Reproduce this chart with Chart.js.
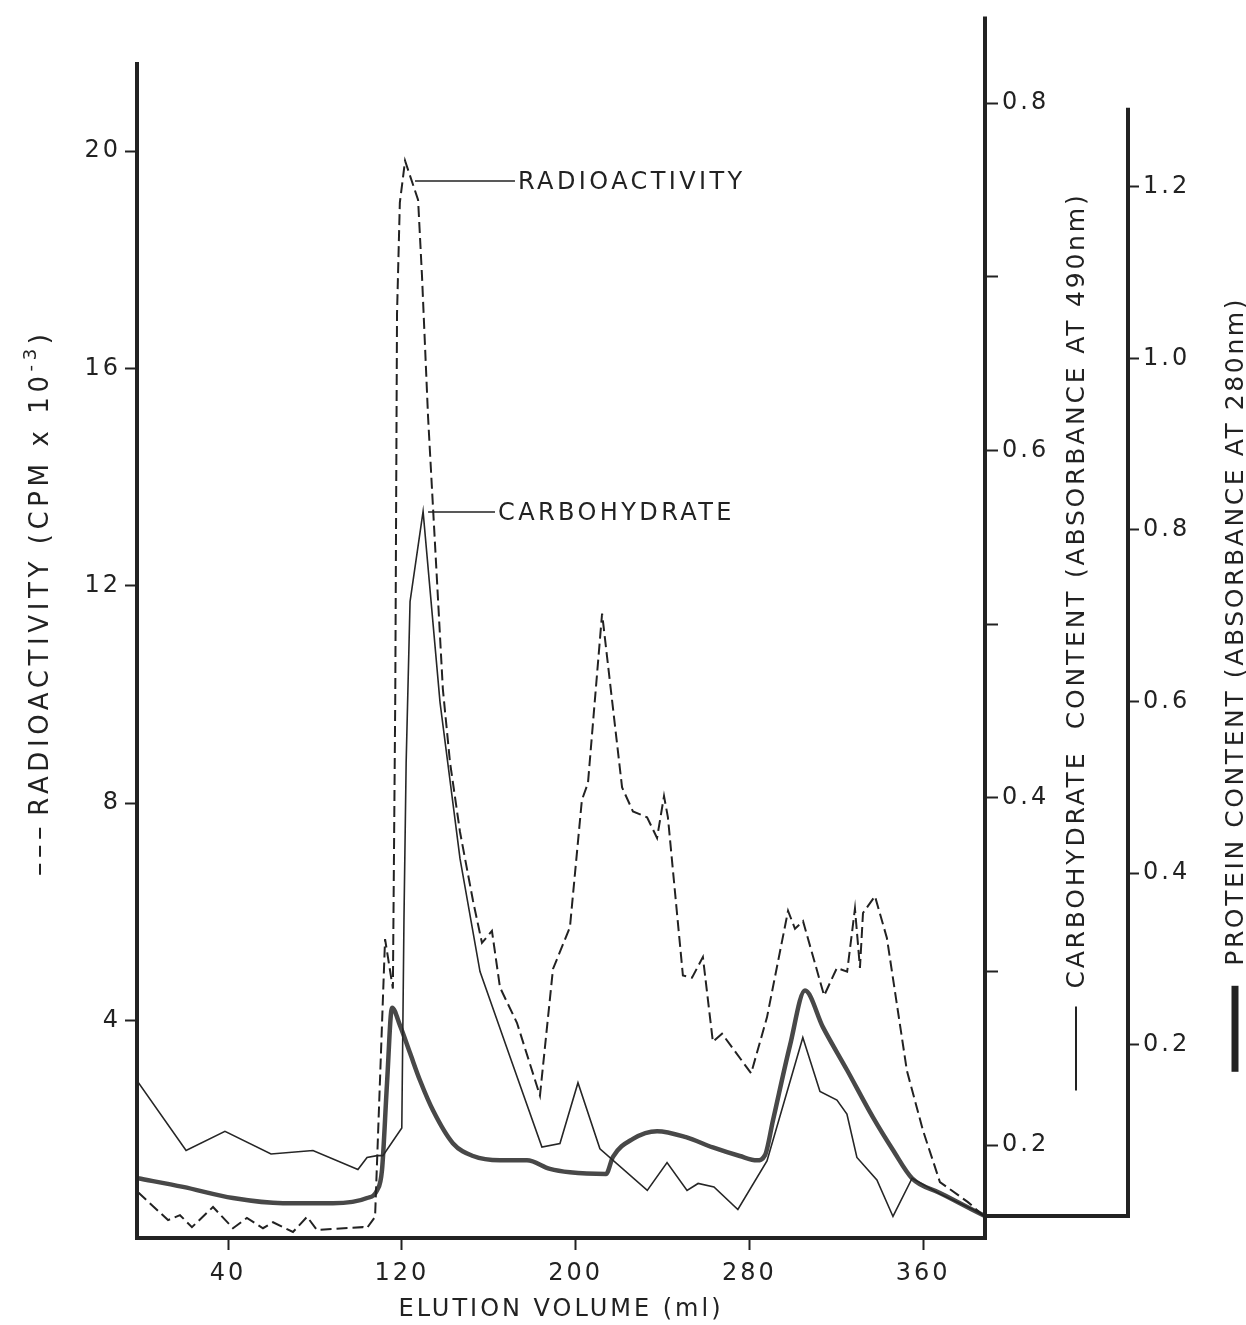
<!DOCTYPE html>
<html>
<head>
<meta charset="utf-8">
<title>Elution profile</title>
<script src="https://cdn.jsdelivr.net/npm/chart.js@4.4.0/dist/chart.umd.min.js"></script>
<style>
  html, body { margin: 0; padding: 0; background: #fff; }
</style>
</head>
<body>
<canvas id="elutionChart" width="1246" height="1325"></canvas>
<script>
// values
const radioVolume = [-1.4, 12.4, 17.9, 23.4, 33.1, 42.3, 48.7, 56.1, 60.7, 69.9, 76.4, 80.9, 102.1, 103.9, 107.7,
    112.3, 115.9, 117.0, 117.8, 119.1, 121.5, 127.5, 129.3, 132.1, 136.2, 138.9, 142.2, 146.8, 152.8, 156.9,
    161.5, 165.2, 173.0, 183.6, 189.6, 197.4, 202.9, 205.7, 212.2, 221.4, 226.4, 232.9, 237.5, 240.7, 242.5,
    249.4, 253.6, 258.6, 263.2, 267.4, 280.8, 288.1, 297.8, 301.0, 304.7, 314.4, 320.3, 325.0, 328.6, 330.9,
    332.3, 337.8, 343.3, 352.5, 359.9, 367.7, 380.6, 388.4];
const radioCpm = [0.84, 0.33, 0.42, 0.20, 0.57, 0.18, 0.37, 0.18, 0.29, 0.11, 0.39, 0.15, 0.20, 0.18, 0.39,
    5.50, 4.59, 10.0, 17.0, 19.05, 19.82, 19.10, 17.7, 15.1, 12.1, 10.1, 8.75, 7.47, 6.20, 5.43,
    5.65, 4.61, 3.96, 2.62, 4.95, 5.72, 8.06, 8.37, 11.49, 8.29, 7.85, 7.74, 7.36, 8.13, 7.74,
    4.83, 4.79, 5.17, 3.61, 3.76, 3.03, 4.06, 6.02, 5.69, 5.83, 4.46, 4.97, 4.90, 6.06, 4.97,
    5.98, 6.29, 5.52, 3.08, 1.98, 1.03, 0.66, 0.39];

const carboVolume = [-1.8, 20.7, 38.6, 59.8, 79.1, 99.8, 104.0, 108.6, 111.3, 120.0, 121.0, 122.0, 123.8, 129.8,
    137.6, 146.8, 156.0, 169.8, 184.5, 192.8, 201.1, 211.2, 233.0, 242.1, 251.3, 256.4, 263.7, 274.7,
    288.1, 304.6, 312.5, 320.3, 324.9, 329.5, 338.7, 346.1, 354.9, 367.7, 382.9, 388.4];
const carboAbs = [0.237, 0.197, 0.208, 0.195, 0.197, 0.186, 0.193, 0.194, 0.194, 0.210, 0.330, 0.420, 0.513, 0.565,
    0.455, 0.365, 0.300, 0.251, 0.199, 0.201, 0.236, 0.198, 0.174, 0.190, 0.174, 0.178, 0.176, 0.163,
    0.191, 0.262, 0.231, 0.226, 0.218, 0.193, 0.180, 0.159, 0.181, 0.172, 0.163, 0.159];

const proteinVolume = [-1.4, 19.3, 42.3, 65.3, 88.3, 104.0, 108.6, 110.9, 113.2, 115.5, 119.2, 123.8, 128.4, 134.4,
    143.5, 152.8, 165.2, 177.6, 188.2, 197.4, 214.0, 217.2, 226.4, 237.5, 250.8, 263.2, 275.6, 283.5,
    287.2, 290.9, 298.7, 305.6, 313.9, 325.0, 336.9, 346.1, 354.9, 367.7, 382.9, 388.4];
const proteinAbs = [0.044, 0.034, 0.021, 0.015, 0.015, 0.021, 0.030, 0.054, 0.155, 0.243, 0.222, 0.190, 0.158, 0.123,
    0.085, 0.070, 0.065, 0.065, 0.055, 0.051, 0.049, 0.069, 0.090, 0.099, 0.092, 0.080, 0.070, 0.065,
    0.071, 0.112, 0.199, 0.263, 0.220, 0.170, 0.115, 0.077, 0.044, 0.027, 0.007, 0.000];

const volumeTicks = [40, 120, 200, 280, 360];
const radioTicks = [4, 8, 12, 16, 20];
const carboTicks = [0.2, 0.3, 0.4, 0.5, 0.6, 0.7, 0.8];
const carboLabelled = [0.2, 0.4, 0.6, 0.8];
const proteinTicks = [0.2, 0.4, 0.6, 0.8, 1.0, 1.2];

const ink = '#222222';
const fontFamily = '"DejaVu Sans", "Liberation Sans", sans-serif';

Chart.defaults.font.family = fontFamily;
Chart.defaults.font.size = 24;
Chart.defaults.color = ink;

function toPoints(xs, ys) {
    return xs.map((x, i) => ({ x: x, y: ys[i] }));
}

function strokeLine(ctx, x1, y1, x2, y2) {
    ctx.beginPath();
    ctx.moveTo(x1, y1);
    ctx.lineTo(x2, y2);
    ctx.stroke();
}

// leader labels next to the peaks
const peakLabels = [
    { text: 'RADIOACTIVITY', scale: 'yRadio', value: 19.45, from: 126.1, to: 172.1 },
    { text: 'CARBOHYDRATE', scale: 'yCarbo', value: 0.5646, from: 132.1, to: 162.9 }
];

// rotated axis titles with their line-style key
const axisTitles = [
    { scale: 'yRadio', offset: 40, at: 11.7, size: 26, spacing: 4.6, text: 'RADIOACTIVITY (CPM x 10', sup: '-3', tail: ')',
      keyLength: 47, keyWidth: 2, keyDash: [11, 7], gap: 12 },
    { scale: 'yCarbo', offset: 91, at: 0.49, size: 25, spacing: 2.8, text: 'CARBOHYDRATE  CONTENT (ABSORBANCE AT 490nm)',
      keyLength: 84, keyWidth: 2, keyDash: [], gap: 18 },
    { scale: 'yProtein', offset: 107, at: 0.62, size: 25, spacing: 2.6, text: 'PROTEIN CONTENT (ABSORBANCE AT 280nm)',
      keyLength: 86, keyWidth: 7, keyDash: [], gap: 20 }
];

const radioAxisTop = 21.6;
const proteinAxisTop = 1.29;

const decorations = {
    id: 'decorations',
    beforeDraw(chart) {
        chart.ctx.letterSpacing = '3px';
    },
    afterDraw(chart) {
        const { ctx, chartArea, scales } = chart;
        ctx.save();
        ctx.strokeStyle = ink;
        ctx.lineWidth = 4;
        ctx.lineCap = 'square';

        // axis lines of unequal height, as in the original drawing
        strokeLine(ctx, chartArea.left, scales.yRadio.getPixelForValue(radioAxisTop), chartArea.left, chartArea.bottom);
        strokeLine(ctx, chartArea.right, chartArea.top, chartArea.right, chartArea.bottom);
        const px = scales.yProtein.left;
        const pBottom = scales.yProtein.getPixelForValue(0);
        strokeLine(ctx, px, scales.yProtein.getPixelForValue(proteinAxisTop), px, pBottom);
        strokeLine(ctx, chartArea.right, pBottom, px, pBottom);

        // peak labels
        ctx.lineCap = 'butt';
        ctx.lineWidth = 1.5;
        ctx.fillStyle = ink;
        ctx.font = '24px ' + fontFamily;
        ctx.letterSpacing = '3.4px';
        ctx.textAlign = 'left';
        ctx.textBaseline = 'middle';
        peakLabels.forEach(p => {
            const y = scales[p.scale].getPixelForValue(p.value);
            const x1 = scales.x.getPixelForValue(p.from);
            const x2 = scales.x.getPixelForValue(p.to);
            strokeLine(ctx, x1, y, x2, y);
            ctx.fillText(p.text, x2 + 3, y + 2);
        });

        // y axis titles
        axisTitles.forEach(t => {
            const scale = scales[t.scale];
            ctx.save();
            ctx.translate(scale.left + t.offset, scale.getPixelForValue(t.at));
            ctx.rotate(-Math.PI / 2);
            ctx.letterSpacing = t.spacing + 'px';
            const mainFont = t.size + 'px ' + fontFamily;
            const supFont = Math.round(t.size * 0.68) + 'px ' + fontFamily;
            ctx.font = mainFont;
            const mainW = ctx.measureText(t.text).width;
            const tailW = t.tail ? ctx.measureText(t.tail).width : 0;
            ctx.font = supFont;
            const supW = t.sup ? ctx.measureText(t.sup).width : 0;
            const total = t.keyLength + t.gap + mainW + supW + tailW;
            let x = -total / 2;

            ctx.lineWidth = t.keyWidth;
            ctx.setLineDash(t.keyDash);
            strokeLine(ctx, x, 0, x + t.keyLength, 0);
            ctx.setLineDash([]);
            x += t.keyLength + t.gap;

            ctx.font = mainFont;
            ctx.fillText(t.text, x, 1);
            x += mainW;
            if (t.sup) {
                ctx.font = supFont;
                ctx.fillText(t.sup, x, -9);
                x += supW;
                ctx.font = mainFont;
                ctx.fillText(t.tail, x, 1);
            }
            ctx.restore();
        });
        ctx.restore();
    }
};

function tickGrid(len) {
    return {
        display: true,
        drawOnChartArea: false,
        drawTicks: true,
        tickLength: len,
        tickWidth: 2,
        tickColor: ink
    };
}

const ctx = document.getElementById('elutionChart').getContext('2d');
window.myChart = new Chart(ctx, {
    type: 'line',
    data: {
        datasets: [
            {
                label: 'Radioactivity',
                data: toPoints(radioVolume, radioCpm),
                yAxisID: 'yRadio',
                borderColor: '#222222',
                borderWidth: 2,
                borderDash: [11, 5],
                tension: 0
            },
            {
                label: 'Carbohydrate',
                data: toPoints(carboVolume, carboAbs),
                yAxisID: 'yCarbo',
                borderColor: '#262626',
                borderWidth: 1.6,
                tension: 0
            },
            {
                label: 'Protein',
                data: toPoints(proteinVolume, proteinAbs),
                yAxisID: 'yProtein',
                borderColor: '#484848',
                borderWidth: 4.5,
                cubicInterpolationMode: 'monotone'
            }
        ]
    },
    options: {
        responsive: false,
        animation: false,
        layout: { padding: { top: 15, left: 0, right: 0, bottom: 0 } },
        elements: { point: { radius: 0 } },
        plugins: {
            legend: { display: false },
            tooltip: { enabled: false }
        },
        scales: {
            x: {
                type: 'linear',
                position: 'bottom',
                min: -1.89,
                max: 388.46,
                afterBuildTicks: s => { s.ticks = volumeTicks.map(v => ({ value: v })); },
                afterFit: s => { s.height = 87; },
                grid: tickGrid(12),
                border: { display: true, width: 4, color: ink },
                ticks: { padding: 9, maxRotation: 0, autoSkip: false },
                title: {
                    display: true,
                    text: 'ELUTION VOLUME (ml)',
                    font: { size: 24 },
                    padding: { top: 0, bottom: 1 }
                }
            },
            yRadio: {
                type: 'linear',
                position: 'left',
                min: 0,
                max: 22.44,
                afterBuildTicks: s => { s.ticks = radioTicks.map(v => ({ value: v })); },
                afterFit: s => { s.width = 137; },
                grid: tickGrid(12),
                border: { display: false },
                ticks: { padding: 4, autoSkip: false }
            },
            yCarbo: {
                type: 'linear',
                position: 'right',
                min: 0.1466,
                max: 0.8488,
                afterBuildTicks: s => { s.ticks = carboTicks.map(v => ({ value: v })); },
                afterFit: s => { s.width = 143; },
                grid: tickGrid(13),
                border: { display: false },
                ticks: {
                    padding: 4,
                    autoSkip: false,
                    callback: v => carboLabelled.some(l => Math.abs(l - v) < 1e-6) ? v.toFixed(1) : ''
                }
            },
            yProtein: {
                type: 'linear',
                position: 'right',
                min: -0.0256,
                max: 1.3965,
                afterBuildTicks: s => { s.ticks = proteinTicks.map(v => ({ value: v })); },
                afterFit: s => { s.width = 118; },
                grid: tickGrid(11),
                border: { display: false },
                ticks: {
                    padding: 4,
                    autoSkip: false,
                    callback: v => v.toFixed(1)
                }
            }
        }
    },
    plugins: [decorations]
});
</script>
</body>
</html>
